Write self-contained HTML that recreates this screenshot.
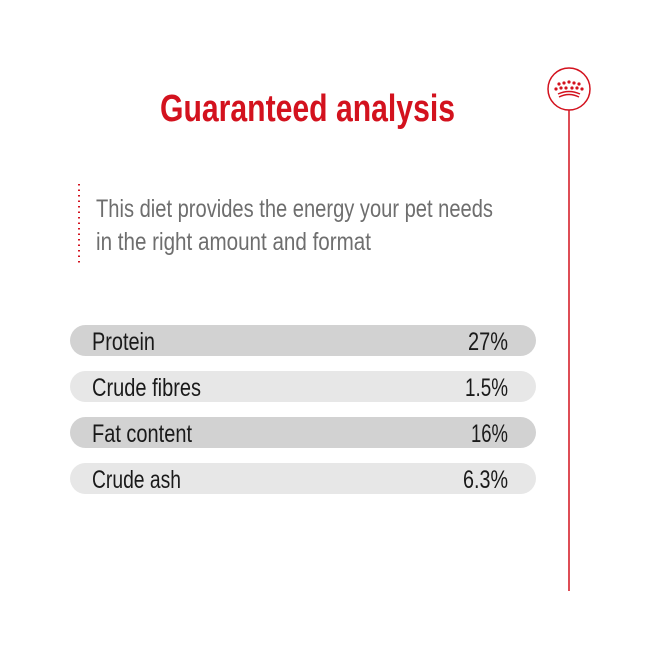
<!DOCTYPE html>
<html><head><style>html,body{margin:0;padding:0;background:#fff}</style></head>
<body>
<svg width="650" height="650" xmlns="http://www.w3.org/2000/svg" font-family="Liberation Sans, sans-serif">
<rect width="650" height="650" fill="#fff"/>
<text x="160" y="121" font-size="38" font-weight="bold" fill="#d3121e" textLength="295" lengthAdjust="spacingAndGlyphs">Guaranteed analysis</text>
<circle cx="569" cy="89" r="21" fill="none" stroke="#d3121e" stroke-width="1.5"/>
<line x1="569" y1="110" x2="569" y2="591" stroke="#d3121e" stroke-width="1.5"/>
<g fill="#d3121e">
<circle cx="559" cy="84" r="1.6"/><circle cx="564" cy="83" r="1.6"/><circle cx="569" cy="82" r="1.6"/><circle cx="574" cy="83" r="1.6"/><circle cx="579" cy="84" r="1.6"/>
<circle cx="556" cy="89" r="1.6"/><circle cx="561" cy="88" r="1.6"/><circle cx="566" cy="88" r="1.6"/><circle cx="572" cy="88" r="1.6"/><circle cx="577" cy="88" r="1.6"/><circle cx="582" cy="89" r="1.6"/>
</g>
<path d="M558 94 Q569 89 580 94 M559 97 Q569 92 579 97" stroke="#d3121e" stroke-width="1.5" fill="none"/>
<line x1="79" y1="184" x2="79" y2="263" stroke="#d3121e" stroke-width="2" stroke-dasharray="1.5 4"/>
<text x="96" y="217" font-size="25" fill="#6e6e6e" textLength="397" lengthAdjust="spacingAndGlyphs">This diet provides the energy your pet needs</text>
<text x="96" y="250" font-size="25" fill="#6e6e6e" textLength="275" lengthAdjust="spacingAndGlyphs">in the right amount and format</text>
<rect x="70" y="325" width="466" height="31" rx="15.5" fill="#d2d2d2"/>
<rect x="70" y="371" width="466" height="31" rx="15.5" fill="#e7e7e7"/>
<rect x="70" y="417" width="466" height="31" rx="15.5" fill="#d2d2d2"/>
<rect x="70" y="463" width="466" height="31" rx="15.5" fill="#e7e7e7"/>
<g font-size="25" fill="#1a1a1a">
<text x="92" y="350" textLength="63" lengthAdjust="spacingAndGlyphs">Protein</text>
<text x="92" y="396" textLength="109" lengthAdjust="spacingAndGlyphs">Crude fibres</text>
<text x="92" y="442" textLength="100" lengthAdjust="spacingAndGlyphs">Fat content</text>
<text x="92" y="488" textLength="89" lengthAdjust="spacingAndGlyphs">Crude ash</text>
<text x="508" y="350" text-anchor="end" textLength="40" lengthAdjust="spacingAndGlyphs">27%</text>
<text x="508" y="396" text-anchor="end" textLength="43" lengthAdjust="spacingAndGlyphs">1.5%</text>
<text x="508" y="442" text-anchor="end" textLength="37" lengthAdjust="spacingAndGlyphs">16%</text>
<text x="508" y="488" text-anchor="end" textLength="45" lengthAdjust="spacingAndGlyphs">6.3%</text>
</g>
</svg>
</body></html>
